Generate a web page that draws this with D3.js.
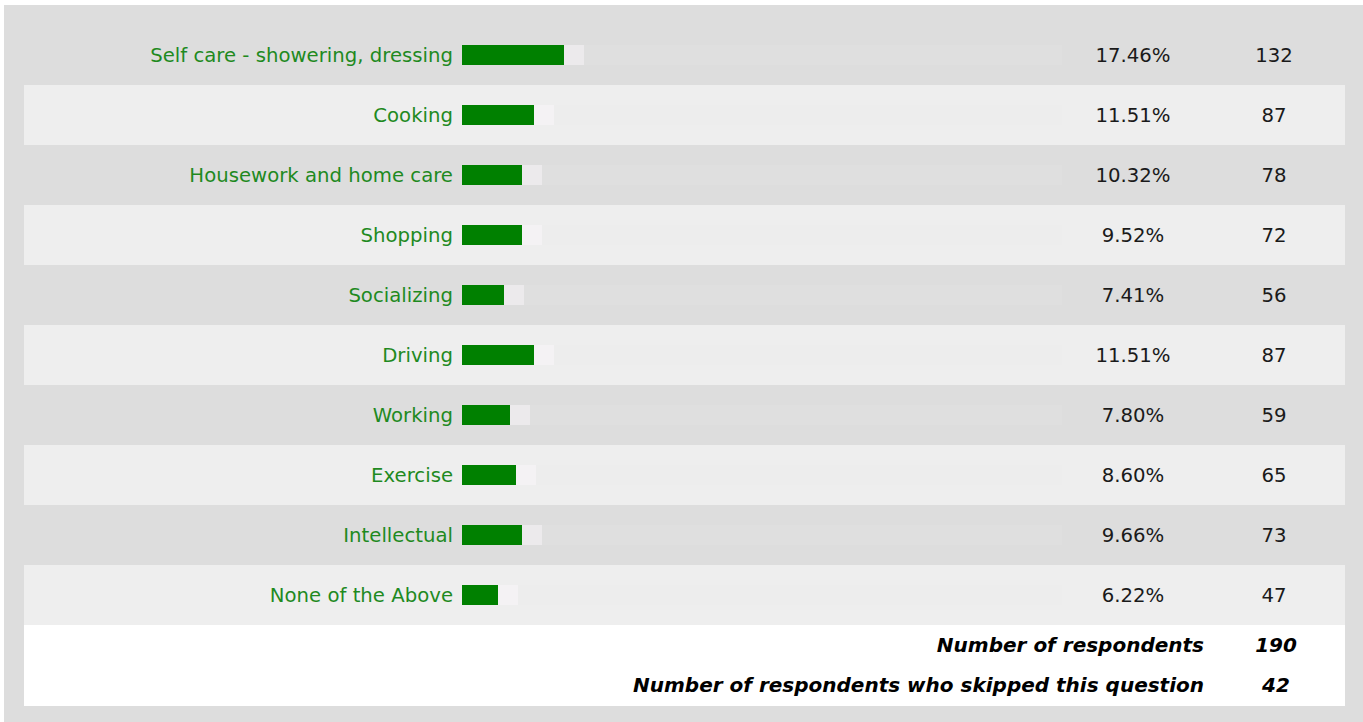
<!DOCTYPE html>
<html>
<head>
<meta charset="utf-8">
<script src="https://cdn.jsdelivr.net/npm/d3@7"></script>
<style>
  body { margin: 0; background: #fff; }
  svg { display: block; }
</style>
</head>
<body>
<script>
// answer choices, percentages and counts
const categories = ['Self care - showering, dressing', 'Cooking', 'Housework and home care',
  'Shopping', 'Socializing', 'Driving', 'Working', 'Exercise', 'Intellectual', 'None of the Above'];
const percents = [17.46, 11.51, 10.32, 9.52, 7.41, 11.51, 7.80, 8.60, 9.66, 6.22];
const counts = [132, 87, 78, 72, 56, 87, 59, 65, 73, 47];
const footerLabels = ['Number of respondents', 'Number of respondents who skipped this question'];
const footerValues = [190, 42];

const W = 1363, H = 722;
const data = categories.map((c, i) => ({ cat: c, pct: percents[i], n: counts[i] }));

const svg = d3.select('body').append('svg')
  .attr('width', W)
  .attr('height', H);

// outer grey panel
svg.append('rect')
  .attr('x', 4).attr('y', 5)
  .attr('width', W - 4).attr('height', H - 5)
  .attr('fill', '#dddddd');

// set the ranges
const y = d3.scaleBand()
  .domain(categories)
  .range([25, 625]);
const x = d3.scaleLinear()
  .domain([0, 100])
  .range([462, 1062]);

const rows = svg.selectAll('.row')
  .data(data)
  .enter().append('g')
  .attr('class', 'row')
  .attr('transform', d => `translate(0,${y(d.cat)})`);

rows.append('rect')
  .attr('x', 24)
  .attr('width', 1321)
  .attr('height', y.bandwidth())
  .attr('fill', (d, i) => i % 2 ? '#eeeeee' : '#dddddd');

const mid = y.bandwidth() / 2;

// faint track behind the bar
rows.append('rect')
  .attr('x', x(0))
  .attr('y', mid - 10)
  .attr('width', x(100) - x(0))
  .attr('height', 20)
  .attr('fill', (d, i) => i % 2 ? '#ededed' : '#dfdfdf');

// pale tail after each bar
rows.append('rect')
  .attr('x', d => x(Math.round(d.pct)))
  .attr('y', mid - 10)
  .attr('width', 20)
  .attr('height', 20)
  .attr('fill', '#fdf8fd')
  .attr('opacity', 0.45);

// bars, drawn in whole percent steps like the original
rows.append('rect')
  .attr('x', x(0))
  .attr('y', mid - 10)
  .attr('width', d => x(Math.round(d.pct)) - x(0))
  .attr('height', 20)
  .attr('fill', '#008000');

rows.append('text')
  .attr('x', 453)
  .attr('y', mid + 7)
  .attr('text-anchor', 'end')
  .style('font-family', 'DejaVu Sans')
  .style('font-size', '19.7px')
  .attr('fill', '#1f8a1f')
  .text(d => d.cat);

rows.append('text')
  .attr('x', 1133)
  .attr('y', mid + 7)
  .attr('text-anchor', 'middle')
  .style('font-family', 'DejaVu Sans')
  .style('font-size', '19.7px')
  .attr('fill', '#1a1a1a')
  .text(d => d.pct.toFixed(2) + '%');

rows.append('text')
  .attr('x', 1274)
  .attr('y', mid + 7)
  .attr('text-anchor', 'middle')
  .style('font-family', 'DejaVu Sans')
  .style('font-size', '19.7px')
  .attr('fill', '#1a1a1a')
  .text(d => d.n);

// summary block
svg.append('rect')
  .attr('x', 24).attr('y', 625)
  .attr('width', 1321).attr('height', 81)
  .attr('fill', '#ffffff');

const foot = svg.selectAll('.foot')
  .data(footerLabels)
  .enter().append('g')
  .attr('class', 'foot')
  .attr('transform', (d, i) => `translate(0,${652 + i * 40})`);

foot.append('text')
  .attr('x', 1204)
  .attr('text-anchor', 'end')
  .style('font-family', 'DejaVu Sans')
  .style('font-size', '20px')
  .style('font-weight', 'bold')
  .style('font-style', 'italic')
  .attr('fill', '#000')
  .text(d => d);

foot.append('text')
  .attr('x', 1276)
  .attr('text-anchor', 'middle')
  .style('font-family', 'DejaVu Sans')
  .style('font-size', '20px')
  .style('font-weight', 'bold')
  .style('font-style', 'italic')
  .attr('fill', '#000')
  .text((d, i) => footerValues[i]);
</script>
</body>
</html>
